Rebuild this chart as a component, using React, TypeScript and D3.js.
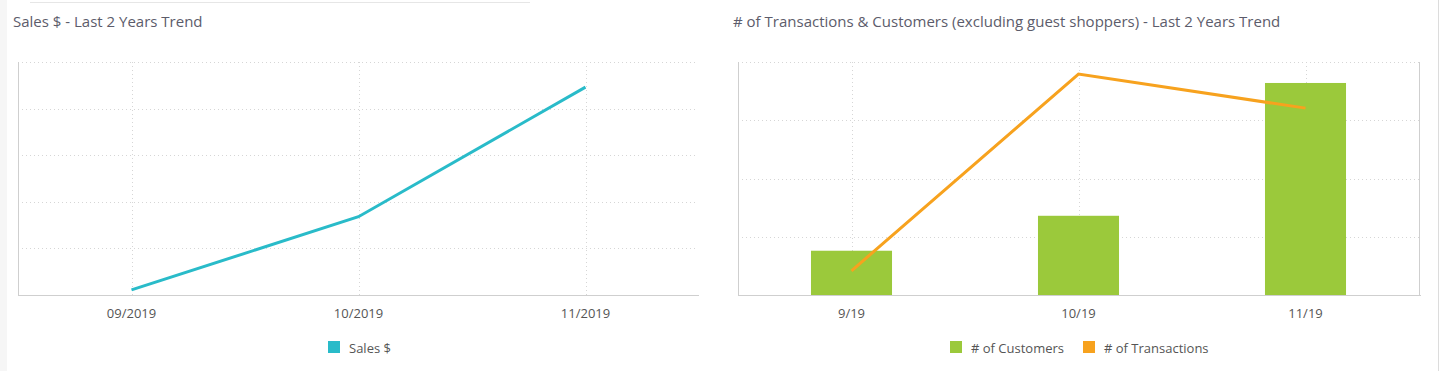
import React, { useRef, useEffect } from "react";
import * as d3 from "d3";

const salesMonths = ["09/2019", "10/2019", "11/2019"];
const salesValues = [1100, 16800, 44600];
const salesTicks = [0, 10000, 20000, 30000, 40000, 50000];

const trendMonths = ["9/19", "10/19", "11/19"];
const customerValues = [76, 136, 364];
const transactionValues = [104, 948, 802];
const customerTicks = [0, 100, 200, 300, 400];

const FONT = "'Open Sans', 'Noto Sans', sans-serif";
const TEAL = "#29bbc9";
const GREEN = "#9bc93b";
const ORANGE = "#f7a21e";
const TEXT = "#555";
const TITLE = "#5c5c6b";

const App = () => {
  const svgRef = useRef<SVGSVGElement>(null);

  useEffect(() => {
    const svg = d3.select(svgRef.current);
    svg.selectAll("*").remove();

    // page chrome
    svg.append("rect").attr("x", 0).attr("y", 0).attr("width", 7).attr("height", 371).attr("fill", "#f6f6f6");
    svg.append("line").attr("x1", 30).attr("x2", 530).attr("y1", 2.5).attr("y2", 2.5).attr("stroke", "#e6e6e6").attr("stroke-width", 1);
    svg.append("line").attr("x1", 1438.5).attr("x2", 1438.5).attr("y1", 0).attr("y2", 371).attr("stroke", "#dcdcdc");

    const top = 62;
    const bottom = 295;

    const drawFrame = (g, x, y, left, right, ticks, rightBorder) => {
      // horizontal dotted grid
      g.selectAll(".hgrid")
        .data(ticks.slice(1))
        .enter()
        .append("line")
        .attr("x1", left)
        .attr("x2", right)
        .attr("y1", (d) => Math.round(y(d)) + 0.5)
        .attr("y2", (d) => Math.round(y(d)) + 0.5)
        .attr("stroke", "#d6d6d6")
        .attr("stroke-dasharray", "1 3");
      // vertical dotted grid
      g.selectAll(".vgrid")
        .data(x.domain())
        .enter()
        .append("line")
        .attr("x1", (d) => Math.round(x(d) + x.bandwidth() / 2) + 0.5)
        .attr("x2", (d) => Math.round(x(d) + x.bandwidth() / 2) + 0.5)
        .attr("y1", top)
        .attr("y2", bottom)
        .attr("stroke", "#d6d6d6")
        .attr("stroke-dasharray", "1 3");
      // axis lines
      g.append("line").attr("x1", left + 0.5).attr("x2", left + 0.5).attr("y1", top).attr("y2", bottom).attr("stroke", "#cfcfcf");
      if (rightBorder) {
        g.append("line").attr("x1", right + 0.5).attr("x2", right + 0.5).attr("y1", top).attr("y2", bottom).attr("stroke", "#cfcfcf");
      }
      g.append("line").attr("x1", left).attr("x2", right + 2).attr("y1", bottom + 0.5).attr("y2", bottom + 0.5).attr("stroke", "#cfcfcf");
      // category labels
      g.selectAll(".xlab")
        .data(x.domain())
        .enter()
        .append("text")
        .attr("x", (d) => x(d) + x.bandwidth() / 2)
        .attr("y", 318)
        .attr("text-anchor", "middle")
        .attr("font-family", FONT)
        .attr("font-size", 13)
        .attr("fill", TEXT)
        .text((d) => d);
    };

    const legendItem = (g, x, color, label) => {
      g.append("rect").attr("x", x).attr("y", 341).attr("width", 12).attr("height", 12).attr("fill", color);
      g.append("text")
        .attr("x", x + 21)
        .attr("y", 352.5)
        .attr("font-family", FONT)
        .attr("font-size", 13)
        .attr("fill", TEXT)
        .text(label);
    };

    // ---- left chart: Sales $
    const g1 = svg.append("g");
    g1.append("text")
      .attr("x", 13)
      .attr("y", 27)
      .attr("font-family", FONT)
      .attr("font-size", 15)
      .attr("fill", TITLE)
      .text("Sales $ - Last 2 Years Trend");

    const x1 = d3.scaleBand().domain(salesMonths).range([18, 699]).padding(0);
    const y1 = d3.scaleLinear().domain([0, 50000]).range([bottom, top]);
    drawFrame(g1, x1, y1, 18, 697, salesTicks, false);

    const salesLine = d3
      .line<number>()
      .x((d, i) => x1(salesMonths[i]) + x1.bandwidth() / 2)
      .y((d) => y1(d));
    g1.append("path")
      .datum(salesValues)
      .attr("fill", "none")
      .attr("stroke", TEAL)
      .attr("stroke-width", 3)
      .attr("d", salesLine);

    legendItem(g1, 328, TEAL, "Sales $");

    // ---- right chart: customers & transactions
    const g2 = svg.append("g");
    g2.append("text")
      .attr("x", 733)
      .attr("y", 27)
      .attr("font-family", FONT)
      .attr("font-size", 15)
      .attr("fill", TITLE)
      .text("# of Transactions & Customers (excluding guest shoppers) - Last 2 Years Trend");

    const x2 = d3.scaleBand().domain(trendMonths).range([738, 1419]).padding(0);
    const y2 = d3.scaleLinear().domain([0, 400]).range([bottom, top]);
    const y2r = d3.scaleLinear().domain([0, 1000]).range([bottom, top]);
    drawFrame(g2, x2, y2, 738, 1419, customerTicks, true);

    const barW = x2.bandwidth() * 0.357;
    g2.selectAll(".bar")
      .data(customerValues)
      .enter()
      .append("rect")
      .attr("x", (d, i) => x2(trendMonths[i]) + (x2.bandwidth() - barW) / 2)
      .attr("y", (d) => y2(d))
      .attr("width", barW)
      .attr("height", (d) => bottom - y2(d))
      .attr("fill", GREEN);

    const transLine = d3
      .line<number>()
      .x((d, i) => x2(trendMonths[i]) + x2.bandwidth() / 2)
      .y((d) => y2r(d));
    g2.append("path")
      .datum(transactionValues)
      .attr("fill", "none")
      .attr("stroke", ORANGE)
      .attr("stroke-width", 3)
      .attr("d", transLine);

    legendItem(g2, 950, GREEN, "# of Customers");
    legendItem(g2, 1083, ORANGE, "# of Transactions");
  }, []);

  return (
    <div style={{ position: "absolute", left: 0, top: 0, width: 1439, height: 371, background: "#fff" }}>
      <svg ref={svgRef} width={1439} height={371} style={{ display: "block" }}></svg>
    </div>
  );
};

export default App;
